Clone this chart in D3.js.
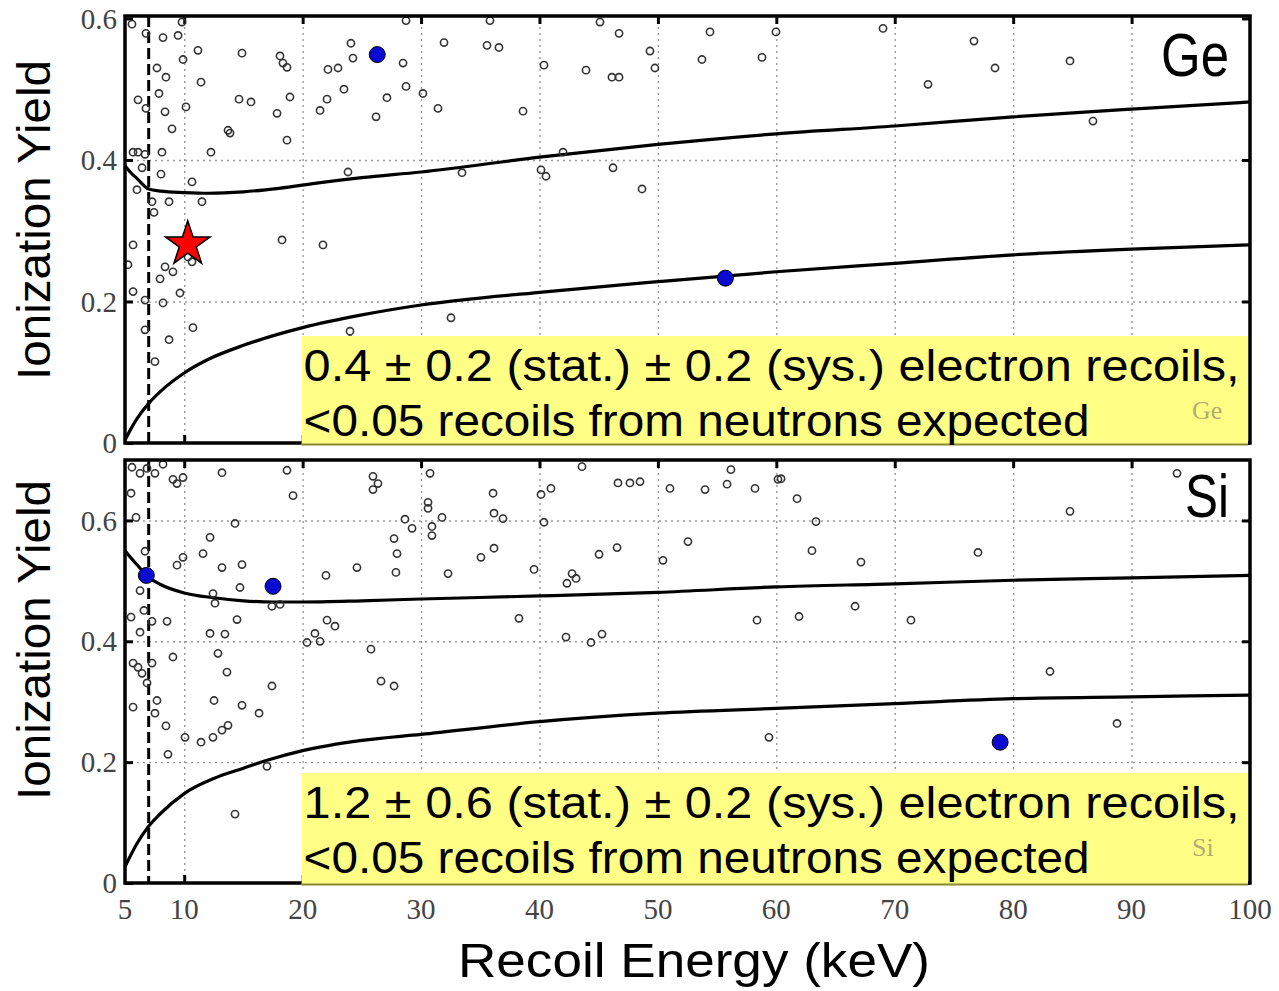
<!DOCTYPE html>
<html>
<head>
<meta charset="utf-8">
<script src="https://cdn.jsdelivr.net/npm/d3@7"></script>
<style>
  body { margin: 0; background: #fff; }
  svg { display: block; }
  .grid line { stroke: #999; stroke-width: 1.4; stroke-dasharray: 2,4; }
  .grid path { display: none; }
  .ticks line { stroke: #000; stroke-width: 3; }
  .ticks path { display: none; }
  .ticks text { display: none; }
  .lbl { font-family: "Liberation Serif", "DejaVu Serif", serif; fill: #444; font-size: 29px; }
</style>
</head>
<body>
<div id="chart"></div>
<script>
// ---- data ----
var xTicks = [10, 20, 30, 40, 50, 60, 70, 80, 90];
var xTickLabels = [5, 10, 20, 30, 40, 50, 60, 70, 80, 90, 100];
var geYTicks = [0, 0.2, 0.4, 0.6];
var siYTicks = [0, 0.2, 0.4, 0.6];
var thresholdKeV = 7;

// Ge scatter (recoil energy keV, ionization yield)
var geE = [5.59, 6.77, 8.21, 9.48, 9.81, 11.16, 14.88, 18.09, 18.34, 18.68, 9.90, 7.70, 8.46, 11.42, 6.10, 6.77, 7.87, 8.38, 10.15, 14.63,
  15.64, 18.93, 17.84, 8.97, 13.70, 13.87, 18.68, 21.47, 8.12, 12.26, 5.68, 6.10, 6.69, 6.44, 8.04, 6.01, 10.66, 8.72, 11.50, 7.28,
  7.45, 5.68, 18.26, 21.72, 10.32, 10.66, 5.25, 8.38, 9.05, 7.96, 5.68, 9.64, 6.69, 8.21, 6.69, 10.74, 8.72, 24.00, 24.00, 7.53,
  22.99, 24.08, 24.25, 22.14, 22.99, 23.49, 22.06, 27.12, 26.20, 28.48, 28.73, 28.73, 30.16, 31.43, 31.94, 35.82, 35.57, 36.58, 38.61, 40.38,
  45.11, 46.72, 43.93, 46.12, 46.72, 49.33, 49.75, 54.40, 53.72, 58.79, 59.97, 23.83, 33.46, 40.13, 40.55, 41.99, 46.21, 48.66, 32.53, 69.01,
  76.69, 72.81, 78.47, 84.80, 86.74];
var geY = [0.592, 0.579, 0.573, 0.576, 0.595, 0.555, 0.551, 0.547, 0.537, 0.531, 0.542, 0.530, 0.517, 0.510, 0.485, 0.473, 0.494, 0.468, 0.475, 0.486,
  0.482, 0.489, 0.466, 0.444, 0.442, 0.438, 0.428, 0.470, 0.411, 0.411, 0.411, 0.411, 0.408, 0.389, 0.380, 0.358, 0.369, 0.341, 0.341, 0.341,
  0.326, 0.280, 0.287, 0.280, 0.263, 0.256, 0.252, 0.249, 0.242, 0.232, 0.214, 0.212, 0.202, 0.198, 0.160, 0.163, 0.146, 0.158, 0.146, 0.115,
  0.043, 0.565, 0.544, 0.528, 0.530, 0.500, 0.486, 0.488, 0.461, 0.537, 0.504, 0.597, 0.494, 0.473, 0.566, 0.597, 0.562, 0.559, 0.469, 0.534,
  0.595, 0.579, 0.527, 0.517, 0.517, 0.554, 0.530, 0.581, 0.542, 0.545, 0.581, 0.383, 0.382, 0.386, 0.377, 0.411, 0.389, 0.359, 0.177, 0.586,
  0.568, 0.507, 0.530, 0.540, 0.455];

// Si scatter
var siE = [5.59, 6.27, 6.86, 7.53, 8.21, 9.05, 9.39, 9.90, 13.19, 18.68, 19.19, 5.51, 5.93, 14.29, 12.18, 11.59, 6.69, 9.90, 9.39, 13.19,
  14.88, 14.71, 6.27, 12.43, 12.60, 17.41, 18.09, 5.51, 6.60, 7.28, 8.55, 14.46, 6.27, 12.18, 13.44, 12.85, 9.05, 5.68, 6.10, 6.44,
  7.28, 13.61, 20.37, 21.04, 17.41, 6.86, 5.68, 7.70, 7.53, 8.46, 8.63, 10.07, 11.42, 12.43, 13.19, 13.70, 12.52, 14.88, 16.32, 16.99,
  14.29, 26.62, 27.72, 25.94, 26.36, 25.94, 30.76, 30.59, 30.59, 31.77, 28.64, 29.24, 30.92, 30.92, 27.72, 27.97, 24.59, 21.97, 27.88, 32.28,
  36.08, 36.16, 36.92, 36.16, 35.06, 39.54, 40.13, 40.97, 40.38, 43.59, 46.63, 47.64, 48.49, 45.03, 46.55, 42.75, 43.09, 42.32, 50.43, 52.54,
  51.02, 53.98, 55.84, 56.17, 58.20, 60.14, 22.06, 22.73, 21.47, 25.77, 38.27, 42.24, 44.35, 45.28, 58.37, 59.38, 60.40, 61.75, 63.35, 63.01,
  67.15, 77.03, 84.80, 93.84, 61.92, 66.65, 71.37, 83.11, 88.77];
var siY = [0.688, 0.678, 0.686, 0.678, 0.693, 0.668, 0.661, 0.671, 0.679, 0.683, 0.641, 0.645, 0.605, 0.595, 0.572, 0.545, 0.549, 0.539, 0.526, 0.522,
  0.527, 0.489, 0.484, 0.479, 0.463, 0.458, 0.461, 0.440, 0.451, 0.433, 0.433, 0.436, 0.415, 0.413, 0.412, 0.380, 0.374, 0.364, 0.357, 0.347,
  0.364, 0.349, 0.398, 0.413, 0.326, 0.331, 0.291, 0.302, 0.281, 0.260, 0.213, 0.241, 0.233, 0.241, 0.253, 0.261, 0.302, 0.294, 0.281, 0.193,
  0.114, 0.334, 0.326, 0.673, 0.661, 0.651, 0.678, 0.630, 0.620, 0.605, 0.602, 0.587, 0.590, 0.575, 0.570, 0.545, 0.522, 0.509, 0.514, 0.512,
  0.645, 0.612, 0.603, 0.554, 0.539, 0.519, 0.643, 0.653, 0.597, 0.689, 0.662, 0.662, 0.664, 0.544, 0.555, 0.512, 0.504, 0.496, 0.534, 0.565,
  0.653, 0.651, 0.660, 0.684, 0.653, 0.668, 0.435, 0.425, 0.400, 0.387, 0.438, 0.407, 0.398, 0.412, 0.435, 0.241, 0.669, 0.636, 0.598, 0.550,
  0.531, 0.547, 0.615, 0.678, 0.441, 0.458, 0.435, 0.350, 0.264];

// highlighted events
var geBlueE = [26.3, 55.7];
var geBlueY = [0.549, 0.233];
var geStarE = [10.3];
var geStarY = [0.281];
var siBlueE = [6.8, 17.5, 78.9];
var siBlueY = [0.509, 0.491, 0.233];

// band edges
var geUpperE = [5, 5.5, 6, 7, 8, 10, 12, 15, 18, 21.5, 25, 30, 40, 50, 60, 70, 80, 90, 100];
var geUpperY = [0.392, 0.382, 0.374, 0.359, 0.356, 0.354, 0.353, 0.355, 0.360, 0.368, 0.375, 0.383, 0.404, 0.422, 0.437, 0.448, 0.461, 0.472, 0.482];
var geLowerE = [5, 5.5, 6, 7, 8, 10, 12, 15, 20, 25, 30, 40, 50, 60, 70, 80, 90, 100];
var geLowerY = [0.004, 0.020, 0.034, 0.056, 0.073, 0.099, 0.118, 0.138, 0.163, 0.181, 0.195, 0.213, 0.228, 0.242, 0.254, 0.266, 0.274, 0.280];
var siUpperE = [5, 5.5, 6, 7, 8, 10, 12.5, 15, 17.5, 20, 25, 30, 40, 50, 60, 70, 80, 90, 100];
var siUpperY = [0.550, 0.538, 0.527, 0.506, 0.494, 0.480, 0.472, 0.467, 0.465, 0.465, 0.467, 0.470, 0.475, 0.481, 0.490, 0.495, 0.501, 0.505, 0.509];
var siLowerE = [5, 6, 7, 8, 10, 12.5, 15, 17, 20, 25, 30, 40, 50, 60, 70, 80, 90, 100];
var siLowerY = [0.027, 0.065, 0.094, 0.115, 0.148, 0.173, 0.190, 0.203, 0.219, 0.236, 0.246, 0.267, 0.281, 0.289, 0.297, 0.305, 0.308, 0.311];

var geText = ["0.4 \u00b1 0.2 (stat.) \u00b1 0.2 (sys.) electron recoils,", "<0.05 recoils from neutrons expected"];
var siText = ["1.2 \u00b1 0.6 (stat.) \u00b1 0.2 (sys.) electron recoils,", "<0.05 recoils from neutrons expected"];

function zip(a, b) { return a.map(function(d, i) { return [d, b[i]]; }); }

var W = 1279, H = 991;
var svg = d3.select('#chart').append('svg').attr('width', W).attr('height', H);

var x = d3.scaleLinear().domain([5, 100]).range([125, 1250]);

function drawPanel(p) {
  var y = d3.scaleLinear().domain([0, p.yMax]).range([p.bottom, p.top]);
  var g = svg.append('g');
  var h = p.bottom - p.top, w = x.range()[1] - x.range()[0];

  // dotted grid
  g.append('g').attr('class', 'grid')
    .attr('transform', 'translate(0,' + p.bottom + ')')
    .call(d3.axisBottom(x).tickValues(xTicks).tickSize(-h).tickFormat(''));
  g.append('g').attr('class', 'grid')
    .attr('transform', 'translate(125,0)')
    .call(d3.axisLeft(y).tickValues(p.yTicks.filter(function(v) { return v > 0 && v < p.yMax - 0.01; })).tickSize(-w).tickFormat(''));

  // inward ticks
  g.append('g').attr('class', 'ticks').attr('transform', 'translate(0,' + p.top + ')')
    .call(d3.axisTop(x).tickValues(xTicks).tickSize(-8));
  g.append('g').attr('class', 'ticks').attr('transform', 'translate(0,' + p.bottom + ')')
    .call(d3.axisBottom(x).tickValues(xTicks).tickSize(-8));
  g.append('g').attr('class', 'ticks').attr('transform', 'translate(125,0)')
    .call(d3.axisLeft(y).tickValues(p.yTicks).tickSize(-8));
  g.append('g').attr('class', 'ticks').attr('transform', 'translate(1250,0)')
    .call(d3.axisRight(y).tickValues(p.yTicks).tickSize(-8));

  // y tick labels
  g.selectAll('.ylab').data(p.yTicks).enter().append('text')
    .attr('class', 'lbl')
    .attr('x', 117).attr('y', function(d) { return y(d); })
    .attr('dy', '0.35em').attr('text-anchor', 'end')
    .text(function(d) { return d === 0 ? '0' : d3.format('.1f')(d); });

  // threshold line
  g.append('line')
    .attr('x1', x(thresholdKeV)).attr('x2', x(thresholdKeV))
    .attr('y1', p.top).attr('y2', p.bottom)
    .attr('stroke', '#000').attr('stroke-width', 3).attr('stroke-dasharray', '11,5');

  // band curves
  var line = d3.line().x(function(d) { return x(d[0]); }).y(function(d) { return y(d[1]); }).curve(d3.curveMonotoneX);
  [p.upper, p.lower].forEach(function(c) {
    g.append('path').datum(c).attr('d', line)
      .attr('fill', 'none').attr('stroke', '#000').attr('stroke-width', 3.2);
  });

  // events
  g.selectAll('.pt').data(p.points).enter().append('circle')
    .attr('cx', function(d) { return x(d[0]); }).attr('cy', function(d) { return y(d[1]); })
    .attr('r', 3.6).attr('fill', 'none').attr('stroke', '#333').attr('stroke-width', 1.6);

  // frame
  g.append('rect').attr('x', 125).attr('y', p.top).attr('width', w).attr('height', h)
    .attr('fill', 'none').attr('stroke', '#000').attr('stroke-width', 3.5);

  // yellow annotation box
  var bx = x(20) - 1, bTop = p.bottom - p.boxH;
  g.append('rect').attr('x', bx).attr('y', bTop).attr('width', 1248 - bx).attr('height', p.boxH + 2)
    .attr('fill', '#ffff85');
  g.append('line').attr('x1', bx).attr('x2', 1248).attr('y1', p.bottom + 1.5).attr('y2', p.bottom + 1.5)
    .attr('stroke', '#8a8a30').attr('stroke-width', 2);
  g.append('text').attr('x', 1192).attr('y', bTop + 83)
    .attr('font-family', 'Liberation Serif, serif').attr('font-size', 26).attr('fill', '#b4ac6a')
    .text(p.name);
  g.selectAll('.boxline').data(p.text).enter().append('text')
    .attr('x', bx + 2).attr('y', function(d, i) { return bTop + 45 + i * 55; })
    .attr('font-family', 'Liberation Sans, Arial, sans-serif').attr('font-size', 45)
    .attr('textLength', function(d, i) { return i === 0 ? 936 : 786; })
    .attr('lengthAdjust', 'spacingAndGlyphs')
    .attr('fill', '#000').text(function(d) { return d; });

  // blue & star events
  g.selectAll('.blue').data(p.blue).enter().append('circle')
    .attr('cx', function(d) { return x(d[0]); }).attr('cy', function(d) { return y(d[1]); })
    .attr('r', 8).attr('fill', '#0a0ad0').attr('stroke', '#000').attr('stroke-width', 1);
  g.selectAll('.star').data(p.stars).enter().append('path')
    .attr('d', d3.symbol().type(d3.symbolStar).size(620))
    .attr('transform', function(d) { return 'translate(' + x(d[0]) + ',' + y(d[1]) + ')'; })
    .attr('fill', '#ff0000').attr('stroke', '#000').attr('stroke-width', 1.5);

  // material label
  g.append('text').attr('x', 1229).attr('y', p.nameY).attr('text-anchor', 'end')
    .attr('font-family', 'Liberation Sans, Arial, sans-serif').attr('font-size', 62)
    .attr('textLength', p.name === 'Ge' ? 68 : 44).attr('lengthAdjust', 'spacingAndGlyphs')
    .text(p.name);

  // y axis title
  g.append('text')
    .attr('transform', 'translate(50,' + p.labelY + ') rotate(-90)')
    .attr('text-anchor', 'middle')
    .attr('font-family', 'Liberation Sans, Arial, sans-serif').attr('font-size', 46)
    .attr('textLength', 320).attr('lengthAdjust', 'spacingAndGlyphs')
    .text('Ionization Yield');
}

drawPanel({
  name: 'Ge', top: 16, bottom: 443, yMax: 0.6035, yTicks: geYTicks, boxH: 107,
  upper: zip(geUpperE, geUpperY), lower: zip(geLowerE, geLowerY),
  points: zip(geE, geY), blue: zip(geBlueE, geBlueY), stars: zip(geStarE, geStarY),
  text: geText, nameY: 76, labelY: 220
});
drawPanel({
  name: 'Si', top: 460, bottom: 883, yMax: 0.7, yTicks: siYTicks, boxH: 110,
  upper: zip(siUpperE, siUpperY), lower: zip(siLowerE, siLowerY),
  points: zip(siE, siY), blue: zip(siBlueE, siBlueY), stars: [],
  text: siText, nameY: 517, labelY: 640
});

// x tick labels
svg.selectAll('.xlab').data(xTickLabels).enter().append('text')
  .attr('class', 'lbl')
  .attr('x', function(d) { return x(d); }).attr('y', 919)
  .attr('text-anchor', 'middle')
  .text(function(d) { return d; });

// x axis title
svg.append('text').attr('x', 694).attr('y', 977).attr('text-anchor', 'middle')
  .attr('font-family', 'Liberation Sans, Arial, sans-serif').attr('font-size', 48)
  .attr('textLength', 472).attr('lengthAdjust', 'spacingAndGlyphs')
  .text('Recoil Energy (keV)');
</script>
</body>
</html>
